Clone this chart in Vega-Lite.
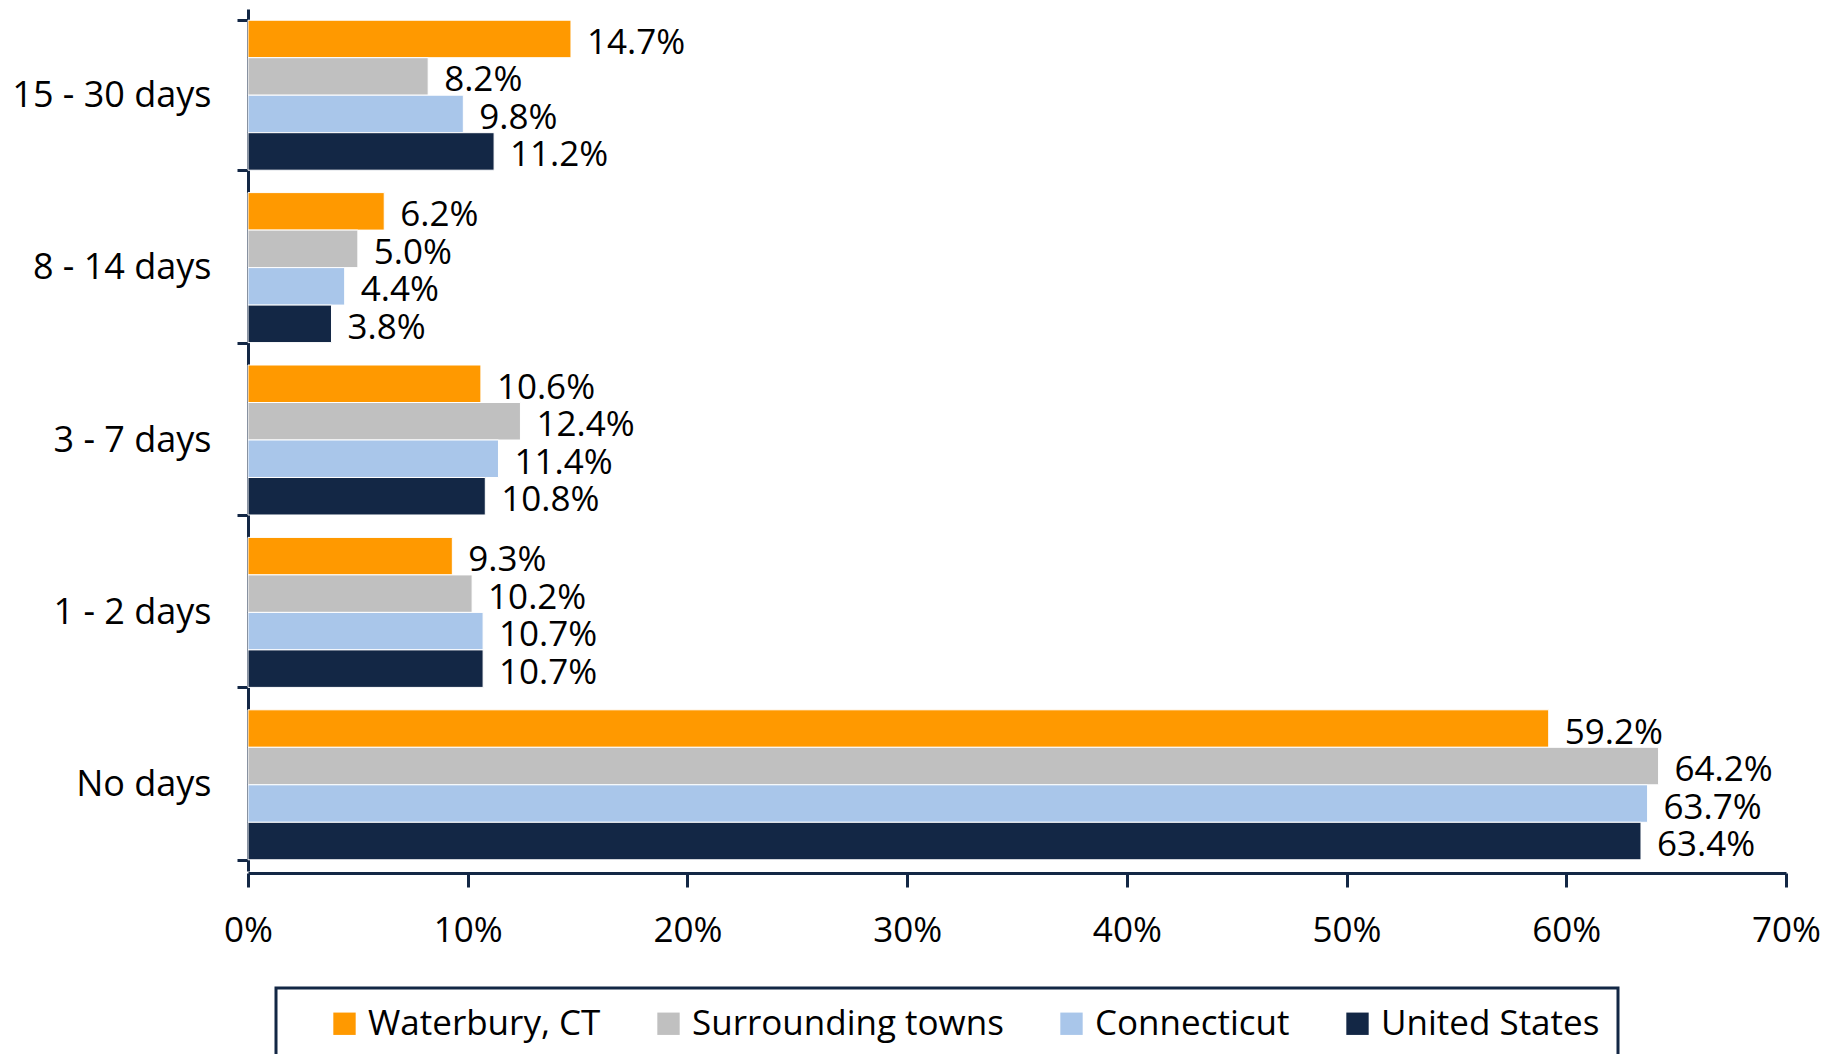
{
  "$schema": "https://vega.github.io/schema/vega-lite/v6.json",
  "autosize": {"type": "none"},
  "width": 1538,
  "height": 862,
  "padding": {"left": 248, "top": 9, "right": 48, "bottom": 183},
  "background": "white",
  "data": {
    "values": [
      {"cat": "15 - 30 days", "series": "Waterbury, CT", "value": 0.147},
      {"cat": "15 - 30 days", "series": "Surrounding towns", "value": 0.082},
      {"cat": "15 - 30 days", "series": "Connecticut", "value": 0.098},
      {"cat": "15 - 30 days", "series": "United States", "value": 0.112},
      {"cat": "8 - 14 days", "series": "Waterbury, CT", "value": 0.062},
      {"cat": "8 - 14 days", "series": "Surrounding towns", "value": 0.050},
      {"cat": "8 - 14 days", "series": "Connecticut", "value": 0.044},
      {"cat": "8 - 14 days", "series": "United States", "value": 0.038},
      {"cat": "3 - 7 days", "series": "Waterbury, CT", "value": 0.106},
      {"cat": "3 - 7 days", "series": "Surrounding towns", "value": 0.124},
      {"cat": "3 - 7 days", "series": "Connecticut", "value": 0.114},
      {"cat": "3 - 7 days", "series": "United States", "value": 0.108},
      {"cat": "1 - 2 days", "series": "Waterbury, CT", "value": 0.093},
      {"cat": "1 - 2 days", "series": "Surrounding towns", "value": 0.102},
      {"cat": "1 - 2 days", "series": "Connecticut", "value": 0.107},
      {"cat": "1 - 2 days", "series": "United States", "value": 0.107},
      {"cat": "No days", "series": "Waterbury, CT", "value": 0.592},
      {"cat": "No days", "series": "Surrounding towns", "value": 0.642},
      {"cat": "No days", "series": "Connecticut", "value": 0.637},
      {"cat": "No days", "series": "United States", "value": 0.634}
    ]
  },
  "encoding": {
    "y": {
      "field": "cat", "type": "nominal",
      "sort": ["15 - 30 days", "8 - 14 days", "3 - 7 days", "1 - 2 days", "No days"],
      "scale": {"paddingInner": 0.13, "paddingOuter": 0.065},
      "axis": {
        "title": null, "tickBand": "extent", "tickSize": 11, "tickWidth": 3, "tickColor": "#132745",
        "domainColor": "#132745", "domainWidth": 3, "labelFontSize": 36, "labelFont": "Open Sans",
        "labelColor": "black", "labelPadding": 26, "labelLimit": 400
      }
    },
    "yOffset": {
      "field": "series", "type": "nominal",
      "sort": ["Waterbury, CT", "Surrounding towns", "Connecticut", "United States"],
      "scale": {"paddingInner": 0, "paddingOuter": 0}
    },
    "x": {
      "field": "value", "type": "quantitative",
      "scale": {"domain": [0, 0.7], "nice": false},
      "axis": {
        "title": null, "format": ".0%", "values": [0, 0.1, 0.2, 0.3, 0.4, 0.5, 0.6, 0.7],
        "grid": false, "tickSize": 14, "tickWidth": 3, "tickColor": "#132745",
        "domainColor": "#132745", "domainWidth": 3, "labelFontSize": 35, "labelFont": "Open Sans",
        "labelColor": "black", "labelPadding": 26, "offset": 2, "labelFlush": false
      }
    }
  },
  "layer": [
    {
      "mark": {"type": "bar", "stroke": "white", "strokeWidth": 1},
      "encoding": {
        "color": {
          "field": "series", "type": "nominal",
          "sort": ["Waterbury, CT", "Surrounding towns", "Connecticut", "United States"],
          "scale": {
            "domain": ["Waterbury, CT", "Surrounding towns", "Connecticut", "United States"],
            "range": ["#FF9900", "#C0C0C0", "#A9C6EA", "#132745"]
          },
          "legend": {
            "title": " ", "titleOrient": "left", "titleFontSize": 10, "titlePadding": 33,
            "orient": "none", "legendX": 28, "legendY": 979,
            "direction": "horizontal", "columns": 4, "padding": 18,
            "strokeColor": "#132745",
            "symbolType": "square", "symbolSize": 500, "symbolStrokeWidth": 0,
            "labelFontSize": 35, "labelFont": "Open Sans", "labelColor": "black",
            "labelOffset": 6, "columnPadding": 50, "labelLimit": 400
          }
        }
      }
    },
    {
      "mark": {"type": "text", "align": "left", "baseline": "middle", "dx": 16, "dy": 4, "fontSize": 35, "font": "Open Sans", "color": "black"},
      "encoding": {
        "text": {"field": "value", "type": "quantitative", "format": ".1%"}
      }
    }
  ],
  "config": {"view": {"stroke": null}, "legend": {"strokeWidth": 3}}
}
